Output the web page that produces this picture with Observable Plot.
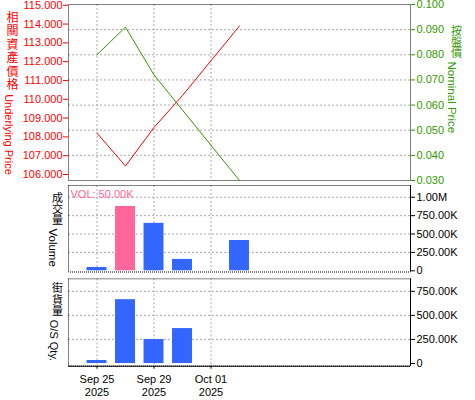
<!DOCTYPE html>
<html><head><meta charset="utf-8">
<script src="https://cdn.jsdelivr.net/npm/d3@7"></script>
<script src="https://cdn.jsdelivr.net/npm/@observablehq/plot@0.6"></script>
<style>
body{margin:0;background:#fff;}
#chart{position:relative;width:475px;height:400px;overflow:hidden;background:#fff;}
#chart svg{position:absolute;left:0;}
</style></head><body><div id="chart"></div>
<script>
// ---- data ----
const dates = ["2025-09-25","2025-09-26","2025-09-29","2025-09-30","2025-10-02"];
const underlyingPrice = [108.2, 106.45, 108.5, 110.2, 113.9];
const nominalPrice = [0.080, 0.091, 0.072, 0.058, 0.030];
const volume = [45000, 875000, 645000, 155000, 412000];
const osQtyDates = ["2025-09-25","2025-09-26","2025-09-29","2025-09-30"];
const osQty = [31000, 663000, 249000, 363000];
const highlightDate = "2025-09-26";
const tickDates = ["2025-09-25","2025-09-29","2025-10-01"];
const tickLabels = ["Sep 25\n2025","Sep 29\n2025","Oct 01\n2025"];
const underlyingTicks = [106,107,108,109,110,111,112,113,114,115];
const nominalTicks = [0.03,0.04,0.05,0.06,0.07,0.08,0.09,0.10];
const volumeTicks = [0,250000,500000,750000,1000000];
const osQtyTicks = [0,250000,500000,750000];
const underlyingTitle = ["相關資產價格", "Underlying Price"];
const nominalTitle = ["按盤價", "Nominal Price"];
const volumeTitle = ["成交量", "Volume"];
const osQtyTitle = ["街貨量", "O/S Qty."];
const volumeNote = "VOL: 50.00K";

// ---- helpers ----
const RED = "#ff0000", GREEN = "#339900", BLUE = "#3366ff", PINK = "#ff6699", GRID = "#aaaaaa";
const start = new Date(dates[0]);
const tday = s => d3.utcDay.range(start, new Date(s)).filter(d => d.getUTCDay() % 6 !== 0).length;
const rows = dates.map((d, i) => ({date: d, t: tday(d), underlying: underlyingPrice[i], nominal: nominalPrice[i], volume: volume[i]}));
const osRows = osQtyDates.map((d, i) => ({date: d, t: tday(d), qty: osQty[i]}));
const tickIdx = tickDates.map(tday);
const tickMap = new Map(tickIdx.map((t, i) => [t, tickLabels[i]]));
const fmtVol = v => v === 0 ? "0" : v >= 1e6 ? (v/1e6).toFixed(2) + "M" : (v/1e3).toFixed(2) + "K";
const style = {fontFamily: "'Liberation Sans', 'Noto Sans CJK TC', sans-serif", fontSize: "11px", background: "transparent", overflow: "visible"};
const common = {width: 475, marginLeft: 68, marginRight: 65, style, x: {domain: [-1, 11], axis: null}};
const grid = {stroke: GRID, strokeOpacity: 1, strokeDasharray: "2,2"};
const frame = () => Plot.frame({stroke: "black", strokeDasharray: "1,1"});
// vertical title: upright CJK characters stacked, then Latin text turned clockwise
const vtitle = ([cjk, latin], {anchor, dx, dy, fill, cjkSize, lh, latinSize, gap = 1}) => [
  Plot.text([Array.from(cjk).join("\n")], {text: d => d, frameAnchor: anchor, dx, dy, fill, fontSize: cjkSize, lineHeight: lh, lineAnchor: "top", textAnchor: "middle"}),
  Plot.text([latin], {text: d => d, frameAnchor: anchor, dx, dy: dy + Array.from(cjk).length * cjkSize * lh + gap, fill, fontSize: latinSize, rotate: 90, textAnchor: "start"})
];
const chart = document.getElementById("chart");
function place(svg, top) { svg.style.top = top + "px"; chart.appendChild(svg); }

// ---- top panel: nominal price (right axis) ----
place(Plot.plot({
  ...common, height: 185, marginTop: 4, marginBottom: 5,
  y: {domain: [0.03, 0.10], axis: null},
  marks: [
    Plot.ruleX(tickIdx, grid),
    Plot.ruleY(nominalTicks.slice(1, -1), grid),
    frame(),
    Plot.axisY({anchor: "right", ticks: nominalTicks, tickFormat: d3.format(".3f"), tickSize: 4, tickPadding: 2, color: GREEN, label: null}),
    Plot.line(rows, {x: "t", y: "nominal", stroke: GREEN, strokeWidth: 1}),
    vtitle(nominalTitle, {anchor: "top-right", dx: 46, dy: 23, fill: GREEN, cjkSize: 11, lh: 1, latinSize: 11.5})
  ]
}), 0);

// ---- top panel overlay: underlying price (left axis) ----
place(Plot.plot({
  ...common, height: 185, marginTop: 4, marginBottom: 5,
  y: {domain: [105.68, 115.04], axis: null},
  marks: [
    Plot.axisY({anchor: "left", ticks: underlyingTicks, tickFormat: d3.format(".3f"), tickSize: 5, tickPadding: 1, color: RED, label: null}),
    Plot.line(rows, {x: "t", y: "underlying", stroke: RED, strokeWidth: 1}),
    vtitle(underlyingTitle, {anchor: "top-left", dx: -56, dy: 8, fill: RED, cjkSize: 12, lh: 1.12, latinSize: 11})
  ]
}), 0);

// ---- middle panel: volume ----
place(Plot.plot({
  ...common, height: 91, marginTop: 3, marginBottom: 1.5, insetBottom: 1.2,
  y: {domain: [0, 1160000], axis: null},
  marks: [
    Plot.ruleX(tickIdx, grid),
    Plot.ruleY(volumeTicks.slice(1), grid),
    frame(),
    Plot.ruleX([11], {stroke: "black"}),
    Plot.axisY({anchor: "right", ticks: volumeTicks, tickFormat: fmtVol, tickSize: 4, tickPadding: 2, color: "black", label: null}),
    Plot.rectY(rows, {filter: d => d.date !== highlightDate, x1: d => d.t - 0.35, x2: d => d.t + 0.35, y: "volume", fill: BLUE}),
    Plot.rectY(rows, {filter: d => d.date === highlightDate, x1: d => d.t - 0.35, x2: d => d.t + 0.35, y: "volume", fill: PINK}),
    Plot.text([volumeNote], {text: d => d, frameAnchor: "top-left", textAnchor: "start", lineAnchor: "top", dx: 2, dy: 4.5, fill: PINK}),
    vtitle(volumeTitle, {anchor: "top-left", dx: -11, dy: 8, fill: "black", cjkSize: 11, lh: 1.03, latinSize: 11.5})
  ]
}), 182);

// ---- bottom panel: outstanding quantity ----
place(Plot.plot({
  ...common, height: 128, marginTop: 6.3, marginBottom: 34.3, insetBottom: 2.7,
  y: {domain: [0, 880000], axis: null},
  marks: [
    Plot.ruleX(tickIdx, grid),
    Plot.ruleY(osQtyTicks.slice(1), grid),
    frame(),
    Plot.ruleX([11], {stroke: "black"}),
    Plot.ruleY([0], {stroke: "black", dy: 2.7}),
    Plot.axisY({anchor: "right", ticks: osQtyTicks, tickFormat: fmtVol, tickSize: 4, tickPadding: 2, color: "black", label: null}),
    Plot.axisX({anchor: "bottom", ticks: tickIdx, tickFormat: d => tickMap.get(d), tickSize: 3, tickPadding: 5, lineHeight: 1.15, color: "black", label: null}),
    Plot.rectY(osRows, {x1: d => d.t - 0.35, x2: d => d.t + 0.35, y: "qty", fill: BLUE}),
    vtitle(osQtyTitle, {anchor: "top-left", dx: -11, dy: 5, fill: "black", cjkSize: 11, lh: 1.06, latinSize: 11})
  ]
}), 272);
</script></body></html>
